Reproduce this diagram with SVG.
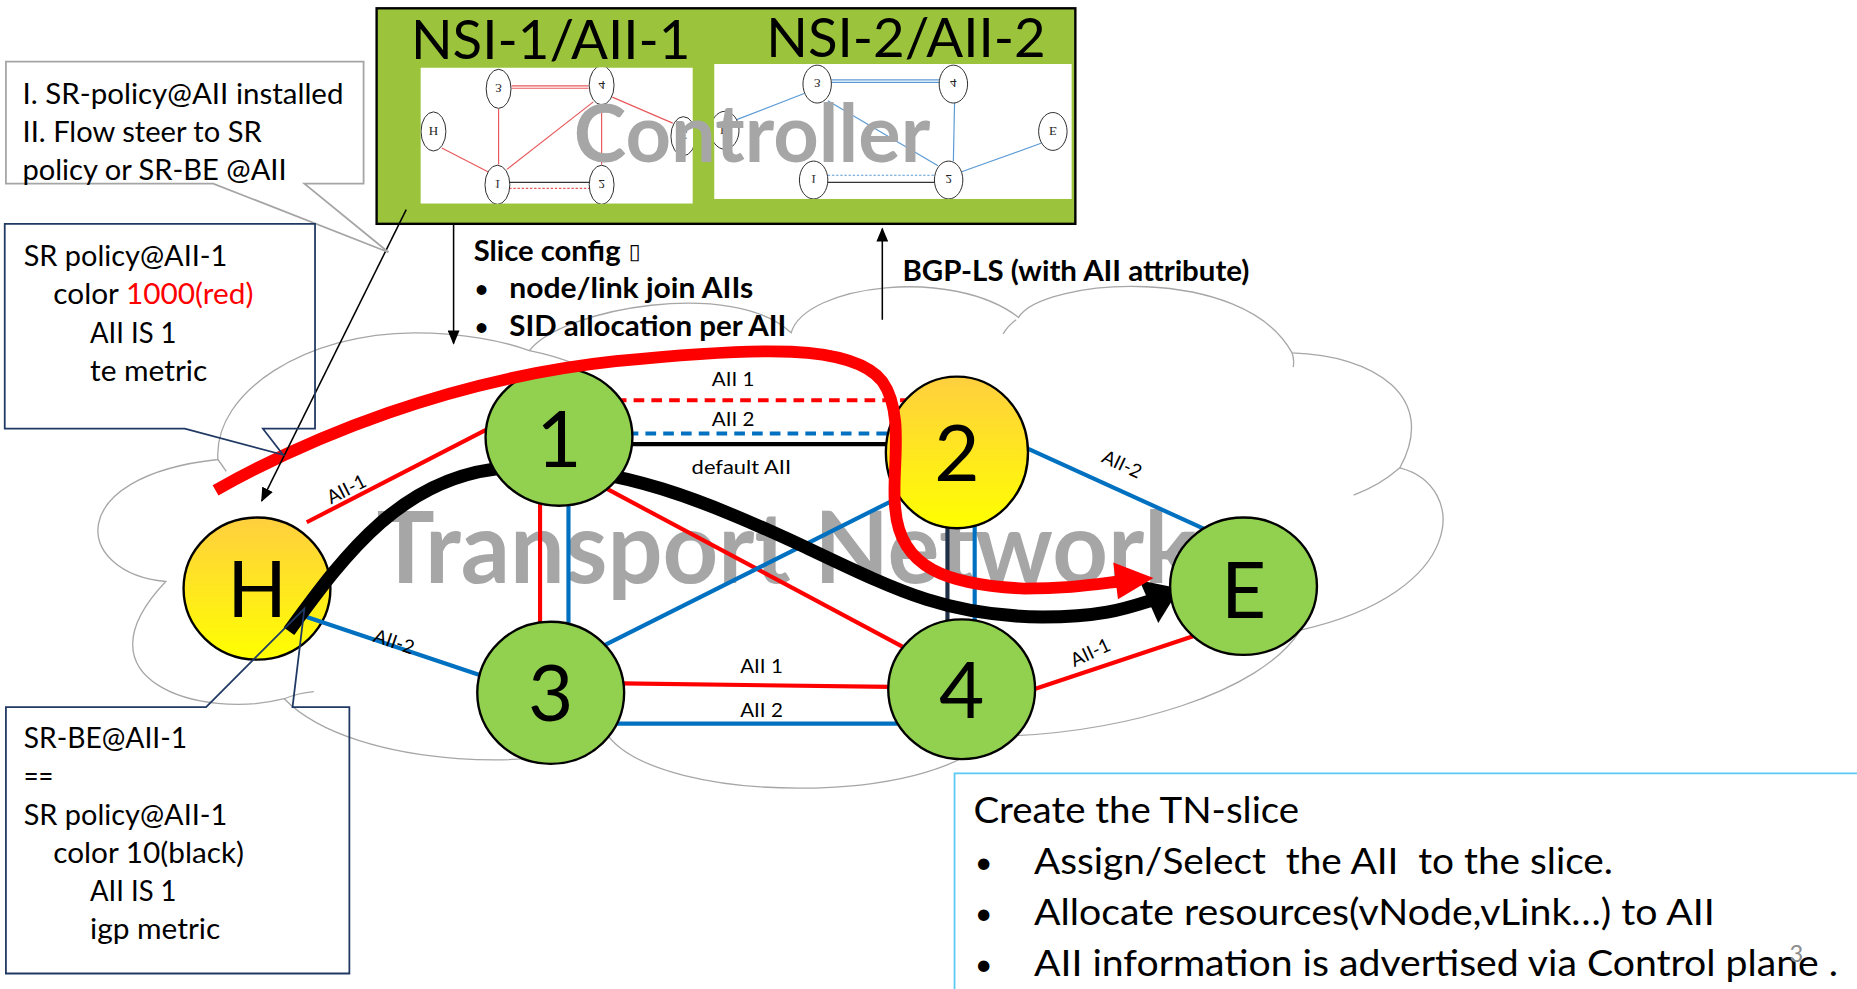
<svg xmlns="http://www.w3.org/2000/svg" width="1857" height="989" viewBox="0 0 1857 989">
<defs>
<style>
text{font-family:Lato,"Liberation Sans",sans-serif;fill:#000}
.cloud{fill:none;stroke:#A6A6A6;stroke-width:1.1}
.e{fill:none;stroke-width:3.5}
.red{stroke:#FF0000}
.blue{stroke:#0070C0}
.blk{stroke:#000}
.navy{stroke:#1F2F45}
.node{stroke:#000;stroke-width:2}
.green{fill:#92D050}
.yel{fill:url(#yg)}
.nl{font-size:66px;text-anchor:middle}
.elm{font-size:16px;text-anchor:middle}
.ct{font-size:24px}
.bt{font-size:24px;font-weight:bold}
.bu{font-size:19px;font-weight:bold}
.br{font-size:30.5px}
.bb{font-size:26px}
.mini{fill:#fff;stroke:#222;stroke-width:0.8}
.mt{font-family:"Liberation Serif",serif;font-size:11px;text-anchor:middle;fill:#222}
.mr{stroke:#E8595B;stroke-width:1;fill:none}
.mb{stroke:#5B9BD5;stroke-width:1;fill:none}
.mk{stroke:#333;stroke-width:1.2;fill:none}
.thin{stroke:#000;stroke-width:1.3;fill:none}
.cg{fill:none;stroke:#A5A5A5;stroke-width:1.5}
.cb{fill:none;stroke:#203864;stroke-width:1.5}
</style>
<linearGradient id="yg" x1="0" y1="0" x2="0" y2="1">
<stop offset="0" stop-color="#FFCF3F"/>
<stop offset="1" stop-color="#FFFF00"/>
</linearGradient>
<marker id="ah" markerWidth="12" markerHeight="10" refX="11" refY="5" orient="auto" markerUnits="userSpaceOnUse">
<path d="M0,0 L12,5 L0,10 Z" fill="#000"/>
</marker>
<clipPath id="c1"><rect x="355" y="57" width="230" height="115"/></clipPath>
<clipPath id="c2"><rect x="603" y="54" width="302" height="114"/></clipPath>
</defs>
<rect x="0" y="0" width="1857" height="989" fill="#fff"/>
<g transform="scale(1.18431)">

<g id="cloud">
<path class="cloud" d="M140,491 C62,484 52,402 184,388 C180,330 260,281 350,281 C390,281 425,288 447,296 C475,260 620,235 668,281 C680,240 805,225 860,268 C880,235 1050,222 1091,298 C1160,300 1215,335 1182,395 C1240,410 1240,500 1098,532 C1065,585 950,620 835,622 C790,680 560,680 514,622 C480,652 300,652 240,590 C170,608 60,575 140,491 Z"/>
<path class="cloud" d="M184,388 Q187,392 191,398 M240,590 Q252,585 265,584 M858,270 Q851,275 847,282 M1091,298 Q1093,303 1092,310 M1182,395 Q1165,410 1143,418 M447,296 Q467,300 485,307"/>
</g>

<text x="318" y="492" font-size="84" font-weight="bold" style="fill:#A6A6A6" textLength="692" lengthAdjust="spacingAndGlyphs">Transport Network</text>

<g id="node-H">
<ellipse class="node yel" cx="217" cy="497" rx="62" ry="60"/>
<text class="nl" x="217" y="521">H</text>
</g>

<g id="connectors">
<line class="e red" x1="520" y1="338" x2="768" y2="338" stroke-dasharray="9 6"/>
<line class="e blue" x1="530" y1="366" x2="752" y2="366" stroke-dasharray="9 6"/>
<line class="e blk" x1="530" y1="375" x2="752" y2="375"/>
<line class="e red" x1="259" y1="441" x2="414" y2="361"/>
<line class="e blue" x1="259" y1="521" x2="405" y2="570"/>
<line class="e red" x1="456" y1="425" x2="456" y2="528"/>
<line class="e blue" x1="480" y1="425" x2="480" y2="528"/>
<line class="e red" x1="511" y1="412" x2="762" y2="546"/>
<line class="e blue" x1="508" y1="546" x2="755" y2="422"/>
<line class="e red" x1="525" y1="577" x2="752" y2="580"/>
<line class="e blue" x1="518" y1="611" x2="758" y2="611"/>
<line class="e navy" x1="800" y1="444" x2="800" y2="525"/>
<line class="e blue" x1="823" y1="440" x2="823" y2="527"/>
<line class="e blue" x1="866" y1="378" x2="1020" y2="448"/>
<line class="e red" x1="873" y1="582" x2="1008" y2="537"/>
<text class="elm" x="619" y="326" textLength="36" lengthAdjust="spacingAndGlyphs">AII 1</text>
<text class="elm" x="619" y="360" textLength="36" lengthAdjust="spacingAndGlyphs">AII 2</text>
<text class="elm" x="626" y="400" textLength="84" lengthAdjust="spacingAndGlyphs">default AII</text>
<text class="elm" x="643" y="568" textLength="36" lengthAdjust="spacingAndGlyphs">AII 1</text>
<text class="elm" x="643" y="605" textLength="36" lengthAdjust="spacingAndGlyphs">AII 2</text>
<text class="elm" transform="translate(295,418) rotate(-27)">AII-1</text>
<text class="elm" transform="translate(331,547) rotate(18.5)">AII-2</text>
<text class="elm" transform="translate(945,397) rotate(25)">AII-2</text>
<text class="elm" transform="translate(923,556) rotate(-25)">AII-1</text>
<path d="M244,533 C290,470 340,400 430,395 C520,390 600,425 680,462 C760,500 800,520 880,521 C930,521 950,514 972,507" fill="none" stroke="#000" stroke-width="11"/>
<polygon points="962,490 996,497 978,526" fill="#000"/>
</g>

<g id="node-1">
<ellipse class="node green" cx="472" cy="369" rx="62" ry="58"/>
<text class="nl" x="472" y="394">1</text>
</g>
<g id="node-2">
<ellipse class="node yel" cx="808" cy="382" rx="60" ry="64"/>
<text class="nl" x="808" y="406">2</text>
</g>
<g id="node-3">
<ellipse class="node green" cx="465" cy="585" rx="62" ry="60"/>
<text class="nl" x="465" y="609">3</text>
</g>
<g id="node-4">
<ellipse class="node green" cx="812" cy="582" rx="62" ry="59"/>
<text class="nl" x="812" y="606">4</text>
</g>
<g id="node-E">
<ellipse class="node green" cx="1050" cy="495" rx="62" ry="58"/>
<text class="nl" x="1050" y="522">E</text>
</g>

<g id="sr-policy-path">
<path d="M182,414 C260,370 380,320 520,305 C640,293 720,290 745,322 C765,350 752,400 756,430 C760,480 800,494 865,497 C900,497 920,494 945,491" fill="none" stroke="#FF0000" stroke-width="10"/>
<polygon points="940,475 974,488 944,506" fill="#FF0000"/>
</g>

<g id="controller">
<rect x="318" y="7" width="590" height="182" fill="#9BC43C" stroke="#000" stroke-width="2"/>
<text x="347" y="50" font-size="46" textLength="236" lengthAdjust="spacingAndGlyphs">NSI-1/AII-1</text>
<text x="647" y="48" font-size="46" textLength="236" lengthAdjust="spacingAndGlyphs">NSI-2/AII-2</text>
<g id="nsi1-view" clip-path="url(#c1)">
<rect x="355" y="57" width="230" height="115" fill="#fff"/>
<line class="mr" x1="373" y1="125" x2="412" y2="145"/>
<line class="mr" x1="421" y1="92" x2="421" y2="139"/>
<line class="mr" x1="432" y1="72.5" x2="497" y2="72.5"/>
<line class="mr" x1="432" y1="74.5" x2="497" y2="74.5"/>
<line class="mr" x1="517" y1="82" x2="568" y2="104"/>
<line class="mr" x1="428" y1="143" x2="501" y2="86"/>
<line class="mr" x1="508" y1="89" x2="508" y2="139"/>
<line class="mk" x1="430" y1="154" x2="498" y2="154"/>
<line class="mr" x1="430" y1="159" x2="498" y2="159" stroke-dasharray="2 1.5"/>
<ellipse class="mini" cx="366" cy="111" rx="10.5" ry="16.5"/>
<ellipse class="mini" cx="421" cy="75" rx="10.5" ry="16.5"/>
<ellipse class="mini" cx="508" cy="72" rx="10.5" ry="16.5"/>
<ellipse class="mini" cx="577" cy="115" rx="10.5" ry="16.5"/>
<ellipse class="mini" cx="420" cy="156" rx="10.5" ry="16.5"/>
<ellipse class="mini" cx="508" cy="156" rx="10.5" ry="16.5"/>
<text class="mt" transform="translate(366,111) scale(1,-1)" y="4">H</text>
<text class="mt" transform="translate(421,75) scale(1,-1)" y="4">3</text>
<text class="mt" transform="translate(508,72) scale(1,-1)" y="4">4</text>
<text class="mt" transform="translate(577,115) scale(1,-1)" y="4">E</text>
<text class="mt" transform="translate(420,156) scale(1,-1)" y="4">1</text>
<text class="mt" transform="translate(508,156) scale(1,-1)" y="4">2</text>
</g>
<g id="nsi2-view" clip-path="url(#c2)">
<rect x="603" y="54" width="302" height="114" fill="#fff"/>
<line class="mb" x1="622" y1="101" x2="679" y2="79"/>
<line class="mb" x1="702" y1="67.5" x2="793" y2="67.5"/>
<line class="mb" x1="702" y1="69.5" x2="793" y2="69.5"/>
<line class="mb" x1="699" y1="85" x2="792" y2="140"/>
<line class="mb" x1="806" y1="87" x2="805" y2="136"/>
<line class="mb" x1="812" y1="145" x2="879" y2="121"/>
<line class="mb" x1="699" y1="148" x2="789" y2="148" stroke-dasharray="2 1.5"/>
<line class="mk" x1="699" y1="154" x2="789" y2="154"/>
<ellipse class="mini" cx="612" cy="110" rx="12" ry="16"/>
<ellipse class="mini" cx="690" cy="71" rx="12" ry="16"/>
<ellipse class="mini" cx="805" cy="71" rx="12" ry="16"/>
<ellipse class="mini" cx="889" cy="111" rx="12" ry="16"/>
<ellipse class="mini" cx="687" cy="152" rx="12" ry="16"/>
<ellipse class="mini" cx="801" cy="152" rx="12" ry="16"/>
<text class="mt" transform="translate(612,110) scale(1,-1)" y="4">H</text>
<text class="mt" transform="translate(690,71) scale(1,-1)" y="4">3</text>
<text class="mt" transform="translate(805,71) scale(1,-1)" y="4">4</text>
<text class="mt" transform="translate(889,111) scale(1,-1)" y="4">E</text>
<text class="mt" transform="translate(687,152) scale(1,-1)" y="4">1</text>
<text class="mt" transform="translate(801,152) scale(1,-1)" y="4">2</text>
</g>
<text x="635" y="137" font-size="68" font-weight="bold" text-anchor="middle" style="fill:#A6A6A6" textLength="301" lengthAdjust="spacingAndGlyphs">Controller</text>
</g>

<g id="annotations">
<line class="thin" x1="383" y1="189" x2="383" y2="290" marker-end="url(#ah)"/>
<line class="thin" x1="745" y1="270" x2="745" y2="193" marker-end="url(#ah)"/>
<line class="thin" x1="343" y1="177" x2="221" y2="423" marker-end="url(#ah)"/>
<text class="bt" x="400" y="220" textLength="124" lengthAdjust="spacingAndGlyphs">Slice config</text>
<text x="531" y="219" font-size="18" style="font-family:'DejaVu Sans',sans-serif">▯</text>
<text class="bu" x="401" y="251">•</text>
<text class="bt" x="430" y="252" textLength="206" lengthAdjust="spacingAndGlyphs">node/link join AIIs</text>
<text class="bu" x="401" y="283">•</text>
<text class="bt" x="430" y="284" textLength="234" lengthAdjust="spacingAndGlyphs">SID allocation per AII</text>
<text class="bt" x="762" y="237" textLength="293" lengthAdjust="spacingAndGlyphs">BGP-LS (with AII attribute)</text>
</g>

<g id="callout-steer">
<path class="cg" d="M5,52 H307 V155 H257 L328,213 L180,155 H5 Z"/>
<text class="ct" x="19" y="88" textLength="271" lengthAdjust="spacingAndGlyphs">I. SR-policy@AII installed</text>
<text class="ct" x="19" y="120" textLength="202" lengthAdjust="spacingAndGlyphs">II. Flow steer to SR</text>
<text class="ct" x="19" y="152" textLength="223" lengthAdjust="spacingAndGlyphs">policy or SR-BE @AII</text>
</g>

<g id="callout-sr-policy">
<path class="cb" d="M4,189 H266 V362 H222 L239,384 L156,362 H4 Z"/>
<text class="ct" x="20" y="225" textLength="172" lengthAdjust="spacingAndGlyphs">SR policy@AII-1</text>
<text class="ct" x="45" y="257" textLength="169" lengthAdjust="spacingAndGlyphs">color <tspan style="fill:#FF0000">1000(red)</tspan></text>
<text class="ct" x="76" y="290" textLength="73" lengthAdjust="spacingAndGlyphs">AII IS 1</text>
<text class="ct" x="76" y="322" textLength="99" lengthAdjust="spacingAndGlyphs">te metric</text>
</g>

<g id="callout-sr-be">
<path class="cb" d="M5,597 H174 L257,514 L247,597 H295 V822 H5 Z"/>
<text class="ct" x="20" y="632" textLength="138" lengthAdjust="spacingAndGlyphs">SR-BE@AII-1</text>
<text class="ct" x="20" y="664" textLength="25" lengthAdjust="spacingAndGlyphs">==</text>
<text class="ct" x="20" y="697" textLength="172" lengthAdjust="spacingAndGlyphs">SR policy@AII-1</text>
<text class="ct" x="45" y="729" textLength="161" lengthAdjust="spacingAndGlyphs">color 10(black)</text>
<text class="ct" x="76" y="761" textLength="73" lengthAdjust="spacingAndGlyphs">AII IS 1</text>
<text class="ct" x="76" y="793" textLength="110" lengthAdjust="spacingAndGlyphs">igp metric</text>
</g>

<g id="tn-slice-box">
<rect x="806" y="653" width="800" height="250" fill="none" stroke="#5BCBF5" stroke-width="1.5"/>
<text class="br" x="822" y="695" textLength="275" lengthAdjust="spacingAndGlyphs">Create the TN-slice</text>
<text class="bb" x="823" y="737">•</text>
<text class="br" x="873" y="738" xml:space="preserve" textLength="489" lengthAdjust="spacingAndGlyphs">Assign/Select  the AII  to the slice.</text>
<text class="bb" x="823" y="780">•</text>
<text class="br" x="873" y="781" textLength="575" lengthAdjust="spacingAndGlyphs">Allocate resources(vNode,vLink…) to AII</text>
<text class="bb" x="823" y="823">•</text>
<text class="br" x="873" y="824" textLength="679" lengthAdjust="spacingAndGlyphs">AII information is advertised via Control plane .</text>
<text x="1511" y="812" font-size="20" style="fill:#8C8C8C">3</text>
</g>

</g>
</svg>
